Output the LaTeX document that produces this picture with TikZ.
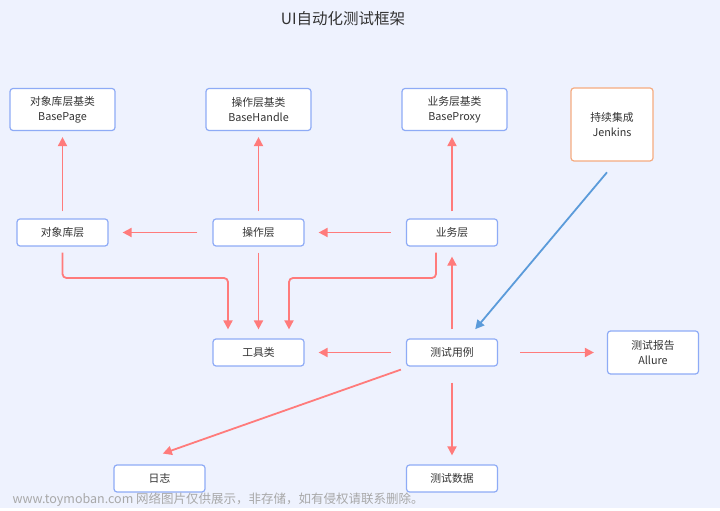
\documentclass[tikz,border=0pt]{standalone}
\usepackage{fontspec}
\setmainfont{Noto Sans CJK SC}
\usetikzlibrary{arrows.meta}
\definecolor{bgblue}{HTML}{EEF2FE}
\definecolor{boxblue}{HTML}{8EABF6}
\definecolor{boxorange}{HTML}{F5AB80}
\definecolor{arrowred}{HTML}{FF7B7B}
\definecolor{arrowblue}{HTML}{5B9BDA}
\definecolor{txt}{HTML}{333333}
\definecolor{wmgrey}{HTML}{A8A8A8}
\tikzset{
  box/.style={draw=boxblue, fill=white, rounded corners=3pt, line width=1.2pt,
    minimum width=91pt, minimum height=27pt, inner sep=0pt, align=center,
    text=txt, font=\fontsize{10.8}{15}\selectfont},
  basebox/.style={box, minimum width=105pt, minimum height=42pt},
  flow/.style={draw=arrowred, line width=1.8pt, -{Triangle[length=9pt,width=9pt]}},
}

\begin{document}
\begin{tikzpicture}[x=1pt,y=1pt]
    \fill[bgblue] (0,0) rectangle (720,508);
    \node[text=txt, font=\fontsize{15.5}{18}\selectfont] (title) at (343,489) {UI自动化测试框架};

    \node[basebox] (pagebase)   at (62.5,398.5)  {对象库层基类\\BasePage};
    \node[basebox] (handlebase) at (258.5,398.5) {操作层基类\\BaseHandle};
    \node[basebox] (proxybase)  at (454.5,398.5) {业务层基类\\BaseProxy};
    \node[box, draw=boxorange, minimum width=82pt, minimum height=73pt] (jenkins) at (612,383.5) {持续集成\\Jenkins};

    \node[box] (objlayer) at (62.5,275.5)  {对象库层};
    \node[box] (oplayer)  at (258.5,275.5) {操作层};
    \node[box] (bizlayer) at (452,275.5)   {业务层};

    \node[box] (tools)  at (258.5,155.5) {工具类};
    \node[box] (cases)  at (452,155.5)   {测试用例};
    \node[box, minimum height=43pt] (report) at (653,155.5) {测试报告\\Allure};

    \node[box] (log)  at (159.5,29.5) {日志};
    \node[box] (data) at (452,29.5)   {测试数据};

    \coordinate (bus) at (0,230);

    \begin{scope}[shorten <=7pt, shorten >=6pt]
    \draw[flow] (objlayer) -- (objlayer.north |- pagebase.south);
    \draw[flow] (oplayer)  -- (oplayer.north |- handlebase.south);
    \draw[flow] (bizlayer) -- (bizlayer.north |- proxybase.south);
    \end{scope}

    \begin{scope}[shorten <=15pt, shorten >=14pt]
    \draw[flow] (oplayer.west)  -- (objlayer.east);
    \draw[flow] (bizlayer.west) -- (oplayer.east);
    \draw[flow] (cases.west)    -- (tools.east);
    \end{scope}
    \draw[flow, shorten <=22pt, shorten >=13pt] (cases.east) -- (report.west);

    \begin{scope}[shorten <=6pt, shorten >=9pt, rounded corners=4pt]
    \draw[flow] (objlayer.south) -- (objlayer.south |- bus) -| ([xshift=-30.5pt]tools.north);
    \draw[flow] (oplayer.south) -- (tools.north);
    \draw[flow] ([xshift=-16pt]bizlayer.south) -- ([xshift=-16pt]bizlayer.south |- bus) -| ([xshift=30.5pt]tools.north);
    \end{scope}

    \draw[flow, shorten <=9pt, shorten >=10pt] (cases.north) -- (bizlayer.south);
    \draw[flow, shorten <=16pt, shorten >=9pt] (cases.south) -- (data.north);
    \draw[flow, shorten >=32.7pt] ([xshift=-5pt,yshift=-3pt]cases.south west) -- ([xshift=-27.5pt]log.north);

    \draw[draw=arrowblue, line width=1.8pt, -{Triangle[length=9pt,width=9pt]}, shorten <=14pt, shorten >=12pt]
      ([xshift=4pt]jenkins.south) -- ([xshift=15.5pt]cases.north);

    \node[anchor=west, text=wmgrey, font=\fontsize{12.5}{14}\selectfont] (mark) at (9,8) {www.toymoban.com 网络图片仅供展示，非存储，如有侵权请联系删除。};
\end{tikzpicture}
\end{document}
